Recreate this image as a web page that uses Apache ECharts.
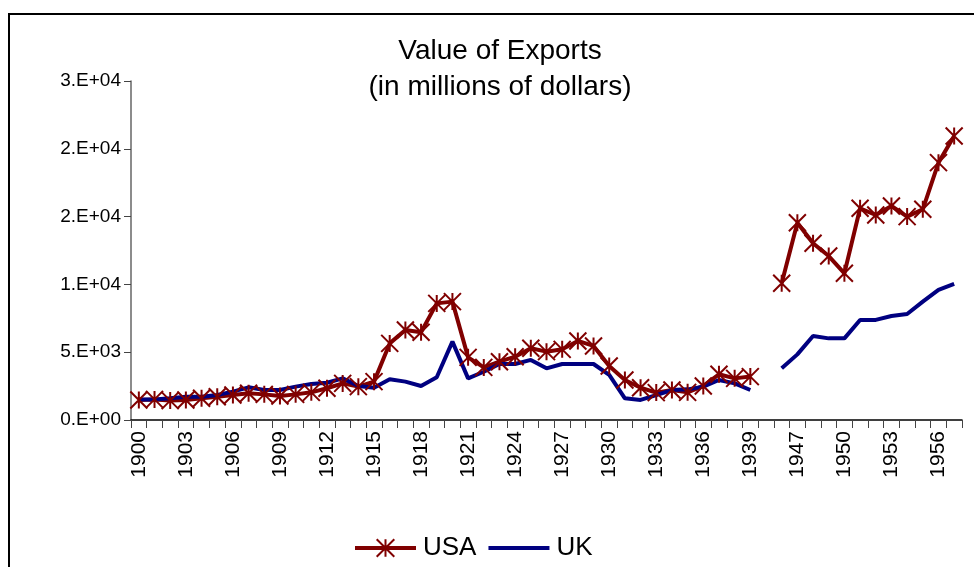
<!DOCTYPE html>
<html>
<head>
<meta charset="utf-8">
<script src="https://cdn.jsdelivr.net/npm/echarts@6/dist/echarts.min.js"></script>
<style>
html,body{margin:0;padding:0;background:#fff;}
#chart{width:974px;height:567px;}
</style>
</head>
<body>
<div id="chart"></div>
<script>
const years = ['1900','1901','1902','1903','1904','1905','1906','1907','1908','1909',
  '1910','1911','1912','1913','1914','1915','1916','1917','1918','1919',
  '1920','1921','1922','1923','1924','1925','1926','1927','1928','1929',
  '1930','1931','1932','1933','1934','1935','1936','1937','1938','1939',
  '1945','1946','1947','1948','1949','1950','1951','1952','1953','1954','1955','1956','1957'];
const usa = [1480,1520,1430,1480,1600,1720,1840,1970,1890,1770,
  1890,2040,2340,2700,2460,2830,5650,6640,6470,8600,
  8730,4620,3880,4300,4670,5290,5040,5210,5830,5460,
  3980,2950,2380,2020,2210,2040,2510,3370,3070,3200,
  null,10080,14550,13030,12090,10820,15610,15120,15780,15000,15540,18980,20940];
const uk = [1520,1520,1600,1720,1720,1840,2090,2410,2210,2210,
  2460,2660,2750,3070,2510,2380,3000,2830,2510,3150,
  5780,3070,3560,4130,4130,4430,3810,4130,4130,4130,
  3320,1600,1480,1840,2210,2260,2460,2950,2700,2210,
  null,3810,4840,6200,6020,6020,7380,7380,7670,7820,8730,9590,10030];
const titleLines = ['Value of Exports', '(in millions of dollars)'];
const seriesNames = ['USA', 'UK'];

const FONT = '"Liberation Sans", Arial, sans-serif';
const chart = echarts.init(document.getElementById('chart'), null, {renderer: 'canvas'});

function sciLabel(v) {
  const s = Number(v).toExponential(0);
  const parts = s.split('e');
  const sign = parts[1][0];
  const ex = parts[1].slice(1).padStart(2, '0');
  return parts[0] + '.E' + sign + ex;
}

const option = {
  backgroundColor: '#fff',
  animation: false,
  textStyle: {fontFamily: FONT},
  graphic: [
    {type: 'rect', shape: {x: 9, y: 14, width: 1000, height: 600},
     style: {fill: 'none', stroke: '#000', lineWidth: 2}, silent: true},
    {type: 'text', x: 500, y: 51,
     style: {text: titleLines[0], fontSize: 28, fontFamily: FONT, fill: '#000', textAlign: 'center', textVerticalAlign: 'middle'}},
    {type: 'text', x: 500, y: 87,
     style: {text: titleLines[1], fontSize: 28, fontFamily: FONT, fill: '#000', textAlign: 'center', textVerticalAlign: 'middle'}}
  ],
  grid: {left: 131, right: 12, top: 81, bottom: 147, containLabel: false},
  legend: {
    data: [
      {name: seriesNames[0]},
      {name: seriesNames[1], itemStyle: {color: 'rgba(0,0,0,0)', borderWidth: 0, opacity: 0}}
    ],
    top: 535,
    left: 353,
    padding: 0,
    itemWidth: 61,
    itemHeight: 22,
    itemGap: 10,
    lineStyle: {width: 4},
    textStyle: {fontSize: 26, fontFamily: FONT, color: '#000', padding: [0, 0, 0, 2]}
  },
  xAxis: {
    type: 'category',
    data: years,
    boundaryGap: true,
    axisLine: {lineStyle: {color: '#000', width: 1.5}},
    axisTick: {show: true, interval: 0, length: 8, lineStyle: {color: '#444'}},
    axisLabel: {interval: 2, rotate: 90, fontSize: 21, fontFamily: FONT, color: '#000', margin: 11}
  },
  yAxis: {
    type: 'value',
    min: 0, max: 25000, interval: 5000,
    splitLine: {show: false},
    axisLine: {show: true, lineStyle: {color: '#666', width: 1.5}},
    axisTick: {show: true, length: 7, lineStyle: {color: '#444'}},
    axisLabel: {formatter: sciLabel, fontSize: 19, fontFamily: FONT, color: '#000', margin: 10}
  },
  series: [
    {
      name: seriesNames[0], type: 'line', data: usa,
      symbol: 'path://M0,0L20,20M20,0L0,20M10,0L10,20',
      symbolSize: 17,
      showAllSymbol: true,
      itemStyle: {color: '#800000', borderColor: '#800000', borderWidth: 2},
      lineStyle: {color: '#800000', width: 4},
      connectNulls: false
    },
    {
      name: seriesNames[1], type: 'line', data: uk,
      symbol: 'none',
      itemStyle: {color: '#000080'},
      lineStyle: {color: '#000080', width: 4},
      connectNulls: false
    }
  ]
};
chart.setOption(option);
</script>
</body>
</html>
